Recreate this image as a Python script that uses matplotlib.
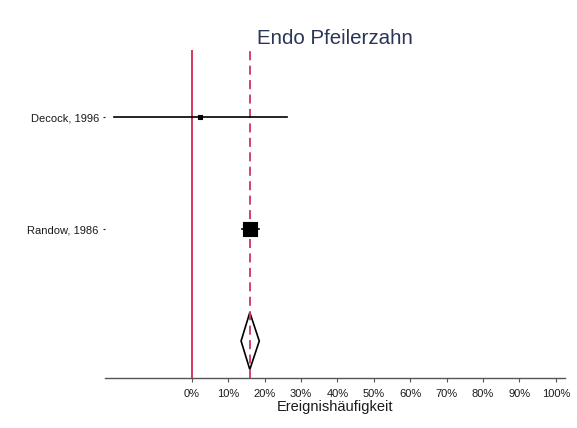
import matplotlib

matplotlib.use("Agg")
import matplotlib.pyplot as plt
from matplotlib.patches import Polygon
from matplotlib.ticker import PercentFormatter

plt.rcParams["font.family"] = ["Liberation Sans", "DejaVu Sans"]

# study-level event rates (proportions) with 95% CI
studies = ["Decock, 1996", "Randow, 1986"]
est = [0.022, 0.159]
ci_lo = [-0.214, 0.137]
ci_hi = [0.260, 0.184]
marker_area = [5, 100]

# pooled estimate
pooled_est = 0.159
pooled_lo = 0.135
pooled_hi = 0.185

xticks = [i / 10 for i in range(11)]

fig = plt.figure(figsize=(5.77, 4.28), dpi=100)
ax = fig.add_axes([0.182, 0.117, 0.797, 0.766])

ypos = [3, 2]
grey = "#555555"

ax.axvline(0, color="#cc0033", lw=1.1, zorder=1)
ax.axvline(pooled_est, color="#cc3366", lw=1.3, ls=(0, (5, 3)), zorder=3)

for y, e, lo, hi, s in zip(ypos, est, ci_lo, ci_hi, marker_area):
    ax.plot([lo, hi], [y, y], color="black", lw=1.2, zorder=4)
    ax.scatter([e], [y], s=s, marker="s", color="black", zorder=5,
               linewidths=0.8, edgecolors="black")

dy = 0.255
diamond = Polygon(
    [(pooled_lo, 1), (pooled_est, 1 + dy), (pooled_hi, 1), (pooled_est, 1 - dy)],
    closed=True, facecolor="white", edgecolor="black", lw=1.2, zorder=2,
)
ax.add_patch(diamond)

ax.set_xlim(-0.239, 1.025)
ax.set_ylim(0.67, 3.6)

ax.set_xticks(xticks)
ax.xaxis.set_major_formatter(PercentFormatter(1.0, decimals=0))
ax.set_yticks(ypos)
ax.set_yticklabels(studies)

for side in ("top", "right", "left"):
    ax.spines[side].set_visible(False)
ax.spines["bottom"].set_color(grey)
ax.spines["bottom"].set_linewidth(1.0)

ax.tick_params(axis="x", colors=grey, labelcolor="#1a1a1a", labelsize=8,
               length=3, width=0.8, pad=5)
ax.tick_params(axis="y", colors="#1a1a1a", labelsize=8, length=1.5,
               width=0.8, pad=3)

ax.set_xlabel("Ereignishäufigkeit", fontsize=10.5, color="#1a1a1a", labelpad=1)
ax.set_title("Endo Pfeilerzahn", fontsize=14.8, color="#2b3558", pad=4.5)

fig.savefig("out.png", dpi=100, facecolor="white")
